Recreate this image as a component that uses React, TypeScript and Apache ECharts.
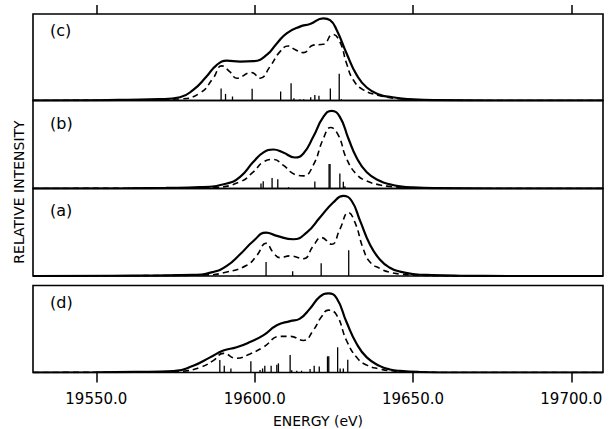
import React, { useEffect, useRef } from "react";
import * as echarts from "echarts";

const X_MIN = 19530;
const X_MAX = 19710;
const TICKS = [19550, 19600, 19650, 19700];
const PANEL_LABELS = ["(c)", "(b)", "(a)", "(d)"];
const X_NAME = "ENERGY (eV)";
const Y_NAME = "RELATIVE INTENSITY";

// panel (c)
const C_SOLID = [[19530,0],[19550,0.3],[19560,0.8],[19570,1.5],[19576.4,3.8],[19580.6,12.3],[19584.8,27.7],[19588,41],[19591.2,46],[19595.4,45],[19599.6,45.5],[19603.8,52.7],[19607,66],[19610.1,77.7],[19614.3,85.4],[19617.5,88.5],[19621.7,95],[19623.8,93],[19625.9,81.5],[19629,54.6],[19632.2,29.6],[19635.4,15],[19639.6,6.5],[19642.7,4.3],[19645.9,2.5],[19650,1.2],[19658,0.4],[19675,0],[19710,0]];
const C_DASH = [[19530,0],[19555,0.3],[19565,0.7],[19576.4,1.8],[19582.7,8.5],[19586.9,25.8],[19589.6,40],[19592.2,33],[19594.3,25.8],[19599,32.3],[19601.7,25.8],[19604.8,39],[19608,56.5],[19610.6,63],[19612.7,59],[19615.4,55.4],[19618.5,64],[19621.7,65],[19624.6,76.5],[19626.9,68],[19629,43],[19631.1,24],[19634.3,12.3],[19639.6,5.5],[19642.7,3.3],[19645.9,2],[19650,1],[19658,0.3],[19675,0],[19710,0]];
const C_STICKS = [[19589.4,14],[19590.8,7.7],[19593,4.6],[19599.2,13.5],[19608.2,10.4],[19611.5,20],[19612.4,2.7],[19614.3,1.5],[19615.5,1.5],[19617.7,3.8],[19619,6.5],[19620.3,5.4],[19623.9,14],[19626.7,30.8],[19627.4,1.5]];

// panel (b)
const B_SOLID = [[19530,0],[19560,0.3],[19572,0.7],[19582.7,1.5],[19591.2,5.7],[19595.4,13.3],[19599.6,30.3],[19602.8,41],[19605.9,44.3],[19609,41],[19612.7,35.2],[19615.4,39.8],[19618.5,58.7],[19621.7,81.4],[19624.3,88.3],[19626.9,81.4],[19629.6,56.8],[19632.2,35],[19635.4,18.5],[19639.6,8.5],[19642.7,4.8],[19645.9,2.5],[19650,1.2],[19658,0.4],[19675,0],[19710,0]];
const B_DASH = [[19530,0],[19565,0.3],[19578,0.6],[19587,1.2],[19595.4,7.6],[19599.6,19],[19602.8,30.3],[19605.9,33],[19609,26.5],[19612.7,16],[19615.4,14.4],[19618.5,26.5],[19621.7,56.8],[19624,69.3],[19626.4,60.6],[19629,34],[19632.2,16],[19635.4,8.5],[19639.6,4],[19642.7,2.4],[19647,1.1],[19655,0.3],[19670,0],[19710,0]];
const B_STICKS = [[19602,5.7],[19602.7,8.3],[19605.5,12],[19607.3,10.6],[19610.7,1.5],[19619,8],[19623.5,27.7],[19623.8,27.7],[19626.9,17],[19628,7.6],[19628.5,2.6]];

// panel (a)
const A_SOLID = [[19530,0],[19555,0.3],[19568,0.6],[19580.6,1.2],[19586.9,4.6],[19591.2,11.5],[19595.4,24.8],[19599.6,40],[19603.6,49.6],[19607,45.8],[19612.2,42],[19616.4,49.6],[19620.6,66.8],[19624.8,84],[19628,91.6],[19630.6,86],[19633.3,63],[19636.4,36],[19639.6,18.5],[19642.7,9.5],[19645.9,5],[19650,2.3],[19656,1],[19665,0.3],[19680,0],[19710,0]];
const A_DASH = [[19530,0],[19560,0.3],[19572,0.6],[19584.8,1.2],[19591.2,4.6],[19597.5,12.2],[19600.6,23],[19603.6,37.4],[19605.9,26.7],[19608,21],[19611.2,23],[19615.4,19.8],[19618.5,34.4],[19621.1,43.9],[19624.3,36.3],[19626.9,53.4],[19629.6,72.5],[19631.7,61],[19634.3,31],[19636.4,16],[19639.6,8.5],[19642.7,4.2],[19645.9,2.3],[19650,1],[19658,0.3],[19675,0],[19710,0]];
const A_STICKS = [[19595,1],[19603.6,16],[19612,5.3],[19621,14.5],[19629.7,29.4]];

// panel (d)
const D_SOLID = [[19530,0],[19550,0.3],[19562,0.7],[19574.3,1.5],[19580.6,7.8],[19585.9,17.4],[19590.1,25.2],[19594.3,29],[19598.5,35],[19602.7,42.6],[19607,54.3],[19611.2,59],[19614.3,62],[19617.5,73.6],[19620.6,87.2],[19623.3,91],[19625.9,85.3],[19629,58],[19632.2,33],[19635.4,17.4],[19639.6,7.3],[19642.7,3.5],[19645.9,1.8],[19652,0.6],[19665,0],[19710,0]];
const D_DASH = [[19530,0],[19555,0.3],[19566,0.6],[19576.4,1.3],[19582.7,5.8],[19586.9,13.6],[19590.1,22],[19594.3,16.3],[19598.5,21.3],[19602.7,29],[19608,41.5],[19611.2,41.5],[19615.4,36.8],[19618.5,48.4],[19621.1,64],[19623.3,71.7],[19625.9,66],[19629,36.8],[19632.2,17.4],[19635.4,8.5],[19639.6,4],[19643,2],[19650,0.6],[19665,0],[19710,0]];
const D_STICKS = [[19589,14.3],[19590.4,7.8],[19592.5,4.6],[19598.8,12.8],[19601.7,3],[19602.5,4.6],[19603.2,7.8],[19605.2,7.8],[19607,9],[19607.5,10.5],[19611.2,20],[19611.7,2.7],[19613.3,2],[19614.8,2],[19617.5,3.9],[19618.8,7.8],[19620.4,7],[19623,18.6],[19623.4,18.6],[19626.2,29],[19627,4.6],[19628,4.6],[19629.4,14.7]];

const PANELS = [
  { solid: C_SOLID, dash: C_DASH, sticks: C_STICKS },
  { solid: B_SOLID, dash: B_DASH, sticks: B_STICKS },
  { solid: A_SOLID, dash: A_DASH, sticks: A_STICKS },
  { solid: D_SOLID, dash: D_DASH, sticks: D_STICKS },
];

const FONT = "DejaVu Sans";

export default function App() {
  const ref = useRef<HTMLDivElement>(null);
  useEffect(() => {
    const chart = echarts.init(ref.current!, null, { renderer: "svg" });
    const gridPos = [
      { top: 14, height: 86.5 },
      { top: 100.5, height: 88 },
      { top: 188.5, height: 87.5 },
      { top: 285.5, height: 87 },
    ];
    const grid = gridPos.map((g) => ({
      left: 33,
      width: 570,
      top: g.top,
      height: g.height,
      show: true,
      borderColor: "#000",
      borderWidth: 1.6,
      backgroundColor: "transparent",
      containLabel: false,
    }));
    const xAxis = gridPos.map((_, i) => {
      const base: any = {
        type: "value",
        gridIndex: i,
        min: X_MIN,
        max: X_MAX,
        splitLine: { show: false },
        axisLine: { show: false, onZero: false },
      };
      if (i === 0) {
        return {
          ...base,
          position: "top",
          axisTick: { show: true, inside: false, length: 9, customValues: TICKS, lineStyle: { color: "#000", width: 1.5 } },
          axisLabel: { show: false },
        };
      }
      if (i === 3) {
        return {
          ...base,
          position: "bottom",
          axisTick: { show: true, inside: false, length: 10, customValues: TICKS, lineStyle: { color: "#000", width: 1.5 } },
          axisLabel: {
            show: true,
            customValues: TICKS,
            formatter: (v: number) => v.toFixed(1),
            fontFamily: FONT,
            fontSize: 15,
            color: "#000",
            margin: 19,
          },
          name: X_NAME,
          nameLocation: "middle",
          nameGap: 41,
          nameTextStyle: { fontFamily: FONT, fontSize: 14, color: "#000" },
        };
      }
      return { ...base, show: false };
    });
    const yAxis = gridPos.map((_, i) => ({
      type: "value",
      gridIndex: i,
      min: 0,
      max: 100,
      show: false,
    }));
    const series: any[] = [];
    PANELS.forEach((p, i) => {
      series.push({
        type: "line",
        xAxisIndex: i,
        yAxisIndex: i,
        data: p.solid,
        smooth: 0.5,
        showSymbol: false,
        lineStyle: { color: "#000", width: 2.2 },
      });
      series.push({
        type: "line",
        xAxisIndex: i,
        yAxisIndex: i,
        data: p.dash,
        smooth: 0.5,
        showSymbol: false,
        lineStyle: { color: "#000", width: 1.6, type: [6, 4] },
      });
      series.push({
        type: "bar",
        xAxisIndex: i,
        yAxisIndex: i,
        data: p.sticks,
        barWidth: 1.3,
        itemStyle: { color: "#000" },
      });
    });
    const labelY = [31, 124, 211, 303];
    const graphic: any[] = PANEL_LABELS.map((t, i) => ({
      type: "text",
      left: 50,
      top: labelY[i] - 9,
      style: { text: t, fontFamily: FONT, fontSize: 16, fill: "#000" },
    }));
    graphic.push({
      type: "text",
      x: 19,
      y: 192,
      rotation: Math.PI / 2,
      style: {
        text: Y_NAME,
        fontFamily: FONT,
        fontSize: 14,
        fill: "#000",
        align: "center",
        verticalAlign: "middle",
      },
    });
    chart.setOption({
      animation: false,
      backgroundColor: "#fff",
      grid,
      xAxis,
      yAxis,
      series,
      graphic,
    });
    return () => chart.dispose();
  }, []);
  return (
    <div
      ref={ref}
      style={{ position: "fixed", left: 0, top: 0, width: 609, height: 429, background: "#fff" }}
    />
  );
}
